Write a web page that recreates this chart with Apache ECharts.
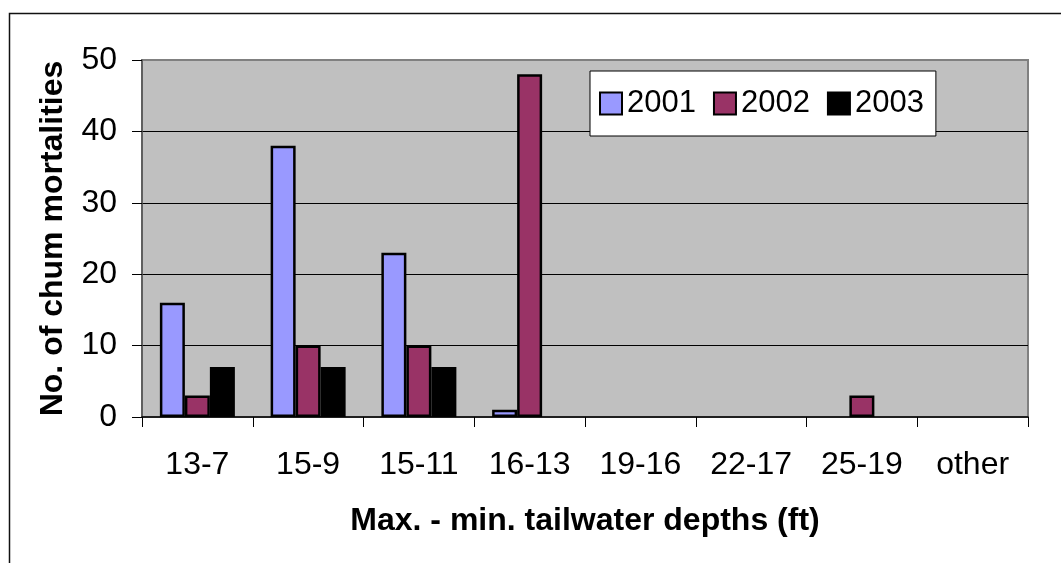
<!DOCTYPE html>
<html>
<head>
<meta charset="utf-8">
<script src="https://cdn.jsdelivr.net/npm/echarts@6/dist/echarts.min.js"></script>
<style>
  html, body { margin: 0; padding: 0; background: #fff; }
  #chart { width: 1061px; height: 563px; }
</style>
</head>
<body>
<div id="chart"></div>
<script>
var categories = ['13-7', '15-9', '15-11', '16-13', '19-16', '22-17', '25-19', 'other'];
var years = ['2001', '2002', '2003'];
var y2001 = [16, 38, 23, 1, 0, 0, 0, 0];
var y2002 = [3, 10, 10, 48, 0, 0, 3, 0];
var y2003 = [7, 7, 7, 0, 0, 0, 0, 0];
var yTicks = [0, 10, 20, 30, 40, 50];

var font = "'Liberation Sans', Arial, sans-serif";
var colors = ['#9999FF', '#993366', '#000000'];

// Excel leaves zero bars out, so do the same
function noZero(arr) {
    return arr.map(function (v) { return v === 0 ? '-' : v; });
}

function barSeries(name, values, color) {
    return {
        name: name,
        type: 'bar',
        data: noZero(values),
        barWidth: 25,
        barGap: '0%',
        itemStyle: {
            color: color,
            borderColor: '#000',
            borderWidth: 2.5
        }
    };
}

var myChart = echarts.init(document.getElementById('chart'));
var option = {
    animation: false,
    textStyle: { fontFamily: font },
    graphic: [{
        type: 'rect',
        shape: { x: 9.5, y: 13.5, width: 1100, height: 600 },
        style: { fill: 'none', stroke: '#111', lineWidth: 1.5 },
        silent: true
    }],
    grid: {
        left: 142,
        right: 33,
        top: 60,
        bottom: 146,
        show: true,
        backgroundColor: '#C0C0C0',
        borderColor: '#808080',
        borderWidth: 2
    },
    legend: {
        data: years,
        left: 590,
        top: 71,
        orient: 'horizontal',
        backgroundColor: '#fff',
        borderColor: '#000',
        borderWidth: 1,
        borderRadius: 0,
        padding: [17, 12, 17, 9],
        itemWidth: 22,
        itemHeight: 22,
        itemGap: 17,
        icon: 'rect',
        itemStyle: { borderColor: '#000', borderWidth: 2 },
        textStyle: { fontSize: 31, color: '#000', fontFamily: font }
    },
    xAxis: {
        type: 'category',
        data: categories,
        boundaryGap: true,
        name: 'Max. - min. tailwater depths (ft)',
        nameLocation: 'middle',
        nameGap: 88,
        nameTextStyle: { fontSize: 32, fontWeight: 'bold', color: '#000', fontFamily: font },
        axisLine: { show: true, lineStyle: { color: '#000', width: 1.5 } },
        axisTick: { show: true, alignWithLabel: false, length: 10, lineStyle: { color: '#000', width: 1 } },
        axisLabel: { fontSize: 32, color: '#000', margin: 32, interval: 0 },
        splitLine: { show: false }
    },
    yAxis: {
        type: 'value',
        min: yTicks[0],
        max: yTicks[yTicks.length - 1],
        interval: 10,
        name: 'No. of chum mortalities',
        nameLocation: 'middle',
        nameGap: 73,
        nameTextStyle: { fontSize: 32, fontWeight: 'bold', color: '#000', fontFamily: font },
        axisLine: { show: true, lineStyle: { color: '#555', width: 1.5 } },
        axisTick: { show: true, inside: false, length: 10, lineStyle: { color: '#000', width: 1 } },
        axisLabel: { fontSize: 32, color: '#000', margin: 25 },
        splitLine: { show: true, showMinLine: false, showMaxLine: false, lineStyle: { color: '#000', width: 1 } }
    },
    series: [
        barSeries(years[0], y2001, colors[0]),
        barSeries(years[1], y2002, colors[1]),
        barSeries(years[2], y2003, colors[2])
    ]
};
myChart.setOption(option);
</script>
</body>
</html>
